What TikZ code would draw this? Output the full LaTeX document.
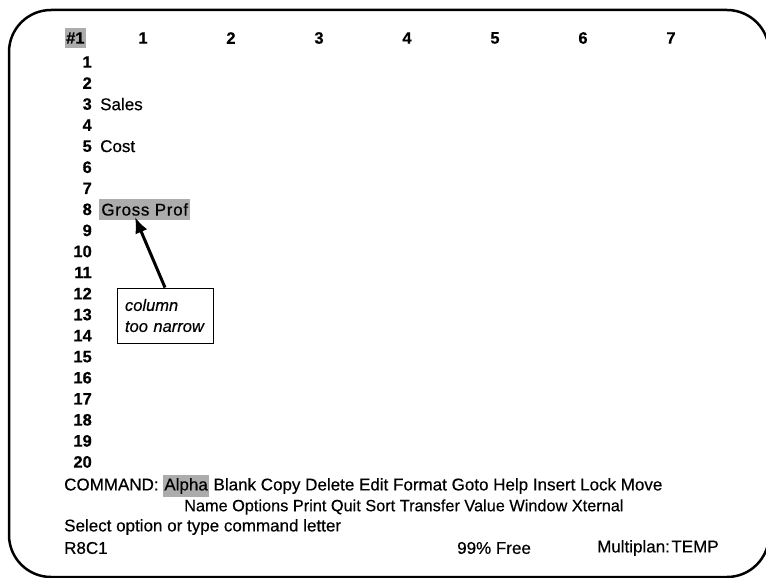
\documentclass[tikz,border=0pt]{standalone}
\usepackage{fontspec}
\setmainfont{Liberation Sans}[FakeBold=0.4]
\usetikzlibrary{arrows.meta,positioning}

\begin{document}
\begin{tikzpicture}[x=1pt,y=-1pt]
	\tikzstyle{every node}+=[inner sep=0pt, font=\fontsize{17}{19}\selectfont]
	\tikzstyle{num}=[font=\fontsize{16.5}{19}\selectfont\bfseries]
	\tikzstyle{hilite}=[fill=gray!65, inner xsep=1pt, inner ysep=4pt]
	\useasboundingbox (0,0) rectangle (766,578);
	% screen frame
	\draw [black, line width=2.5pt, rounded corners=42pt] (9,10) rectangle (769,577);
	% column headers
	\node [num, hilite, anchor=west] (corner) at (65,38) {\#1};
	\foreach \c in {1,...,7}
		\node [num] (col\c) at (143+88*\c-88,38) {\c};
	% row numbers
	\foreach \r in {1,...,20}
		\node [num, anchor=east] (row\r) at (92,62+21.05*\r-21.05) {\r};
	% cell contents
	\node [right=8pt of row3] (sales) {Sales};
	\node [right=8pt of row5] (cost) {Cost};
	\node [hilite, anchor=west, minimum width=91pt] (gross) at (99,209.5) {\addfontfeature{LetterSpace=4}Gross Prof};
	% note
	\node [draw, line width=0.9pt, align=left, text width=80pt, inner xsep=8pt, minimum height=55pt, font=\fontsize{16.5}{21}\selectfont\itshape] (note) at (165,315.5) {column\\too narrow};
	\coordinate (tip) at (135,217);
	\draw [line width=3pt, -{Latex[length=16pt,width=13pt]}] (note.north) -- (tip);
	% command area
	\node [anchor=west] (cmd) at (64,486) {COMMAND: \tikz[baseline=(a.base)]\node[hilite,inner ysep=3pt] (a) {Alpha}; Blank Copy Delete Edit Format Goto Help Insert Lock Move};
	\node [anchor=west, font=\fontsize{16.3}{19}\selectfont] (cmdb) at (184,507) {Name Options Print Quit Sort Transfer Value Window Xternal};
	\node [anchor=west] (msg) at (64,527) {Select option or type command letter};
	\node [anchor=west] (cell) at (64,548) {R8C1};
	\node [anchor=west] (free) at (457,548) {99\% Free};
	\node [anchor=west] (file) at (597,548) {Multiplan:\kern1.5pt TEMP};
\end{tikzpicture}
\end{document}
